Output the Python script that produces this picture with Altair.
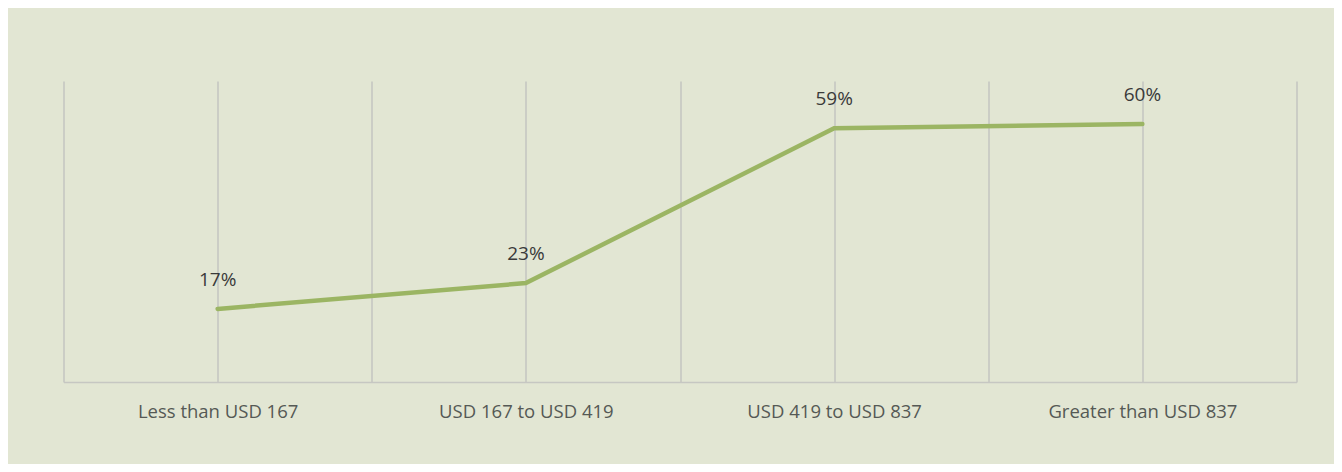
import altair as alt
import pandas as pd

categories = ["Less than USD 167", "USD 167 to USD 419", "USD 419 to USD 837", "Greater than USD 837"]
values = [17, 23, 59, 60]
labels = ["17%", "23%", "59%", "60%"]

df = pd.DataFrame({
    "cat": categories,
    "pos": [2 * i + 1 for i in range(len(categories))],
    "value": values,
    "label": labels,
})

label_expr = ("datum.value == 1 ? '" + categories[0] + "' : datum.value == 3 ? '" + categories[1] +
              "' : datum.value == 5 ? '" + categories[2] + "' : datum.value == 7 ? '" + categories[3] + "' : ''")

x = alt.X("pos:Q", scale=alt.Scale(domain=[0, 8], nice=False, zero=False),
          axis=alt.Axis(title=None, values=list(range(0, 9)), labelExpr=label_expr,
                        grid=True, gridColor="#c6c7c2", gridWidth=1.6,
                        domain=True, domainColor="#c6c7c2", domainWidth=1.6,
                        ticks=False, tickSize=0, labelPadding=35, labelBaseline="alphabetic",
                        labelFont="Open Sans", labelFontSize=18.5, labelColor="#555955",
                        labelLimit=400, labelFlush=False, labelOverlap=False))
y = alt.Y("value:Q", scale=alt.Scale(domain=[0, 70], nice=False), axis=None)

line = alt.Chart(df).mark_line(color="#9bb563", strokeWidth=4.5, strokeCap="round").encode(x=x, y=y)
text = alt.Chart(df).mark_text(font="Open Sans", fontSize=19, color="#3a3a3a", dy=-23,
                               baseline="alphabetic", align="center").encode(
    x=alt.X("pos:Q"), y=alt.Y("value:Q"), text="label:N")

chart = (line + text).properties(
    width=1233, height=301,
    autosize=alt.AutoSizeParams(type="none"),
    padding={"left": 55.5, "top": 73, "right": 37.5, "bottom": 82},
    background="#e2e6d3",
).configure_view(stroke=None)

chart.save("out.html", embed_options={"renderer": "svg", "actions": False})
